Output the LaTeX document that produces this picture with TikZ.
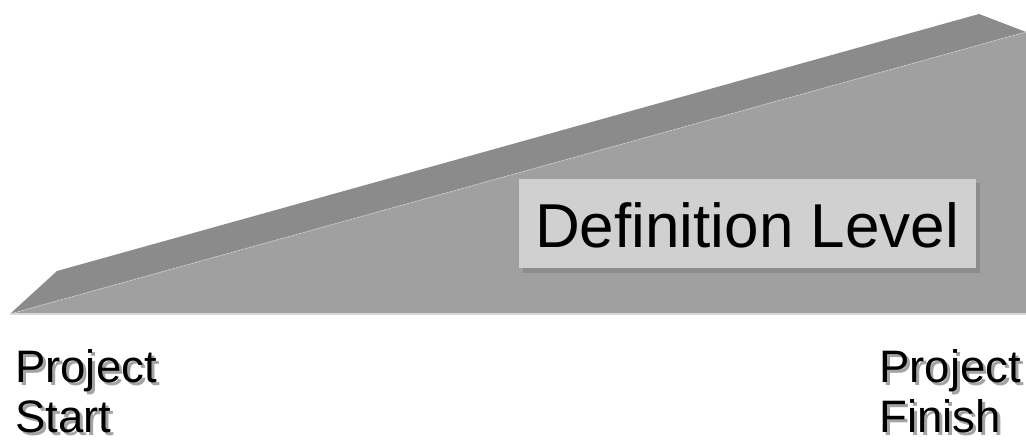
\documentclass[tikz,border=0pt]{standalone}
\usepackage{fontspec}
\setmainfont{Liberation Sans}
\definecolor{topface}{HTML}{8B8B8B}
\definecolor{frontface}{HTML}{A0A0A0}
\definecolor{edgeline}{HTML}{C8C8C8}
\definecolor{boxfill}{HTML}{D0D0D0}
\definecolor{boxshadow}{HTML}{8C8C8C}
\definecolor{txtshadow}{HTML}{A3A3A3}
\newcommand{\shadowtext}[1]{\rlap{\hspace{3pt}\raisebox{-3pt}{\textcolor{txtshadow}{#1}}}#1}
\tikzset{
  lbl/.style={anchor=base west, inner sep=0pt, font=\fontsize{45.5}{49}\selectfont},
}
\begin{document}
\begin{tikzpicture}[x=1pt,y=-1pt]
\useasboundingbox (0,0) rectangle (1026,446);
% wedge
\coordinate (bl) at (10,314);
\coordinate (tl) at (57,271);
\coordinate (apex) at (979,14);
\coordinate (tr) at (1026,32);
\coordinate (br) at (1026,314);
\fill[topface] (bl) -- (tl) -- (apex) -- (tr) -- cycle;
\fill[frontface] (bl) -- (tr) -- (br) -- cycle;
\draw[edgeline, line width=0.8pt, dash pattern=on 3pt off 1pt] (bl) -- (tr);
\draw[edgeline!70!white, line width=1.5pt] (bl) -- (br);
% label box
\fill[boxshadow] (523,183) rectangle (980,273);
\node[fill=boxfill, minimum width=457pt, minimum height=89pt, inner sep=0pt, anchor=north west] (box) at (519,179) {};
\node[anchor=base west, inner sep=0pt, font=\fontsize{62}{70}\selectfont] (deflevel) at (535,248) {Definition Level};
% labels with shadows
\node[lbl] (ps1) at (15,383) {\shadowtext{Project}};
\node[lbl] (ps2) at (15,432) {\shadowtext{Start}};
\node[lbl] (pf1) at (879,383) {\shadowtext{Project}};
\node[lbl] (pf2) at (879,432) {\shadowtext{Finish}};
\end{tikzpicture}
\end{document}
